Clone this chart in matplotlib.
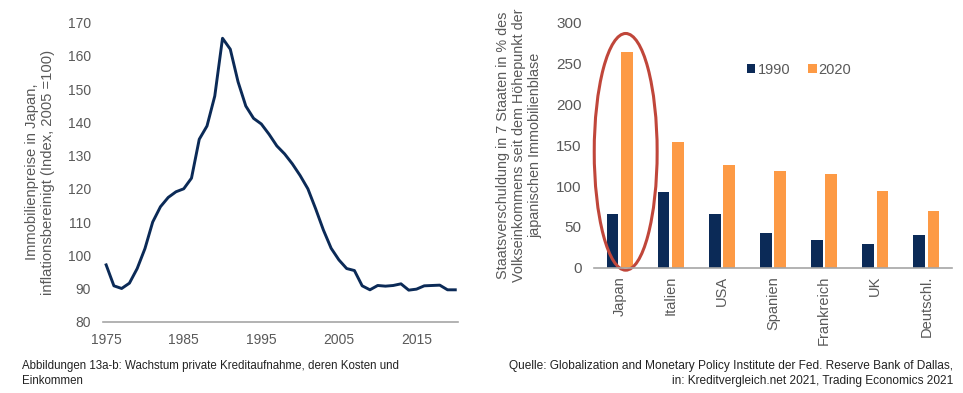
import matplotlib
matplotlib.use("Agg")
import matplotlib.pyplot as plt
from matplotlib.patches import Ellipse
import numpy as np

plt.rcParams['font.family'] = ['Liberation Sans', 'DejaVu Sans']

# left chart: real estate prices Japan
years = list(range(1975, 2021))
prices = [97.1, 90.8, 90.0, 91.6, 96.0, 102.0, 110.0, 114.6, 117.4, 119.1,
          120.0, 123.2, 134.9, 138.9, 147.9, 165.3, 162.0, 152.2, 144.9, 141.2,
          139.5, 136.4, 132.9, 130.5, 127.5, 124.0, 120.0, 114.0, 107.6, 102.1,
          98.6, 96.0, 95.4, 90.8, 89.6, 90.9, 90.7, 90.9, 91.4, 89.5,
          89.8, 90.8, 90.9, 91.0, 89.6, 89.6]

# right chart: government debt
countries = ['Japan', 'Italien', 'USA', 'Spanien', 'Frankreich', 'UK', 'Deutschl.']
debt_1990 = [66, 93, 66, 43, 34, 29, 40]
debt_2020 = [264, 154, 126, 118, 115, 94, 69]

NAVY = '#0b2a57'
ORANGE = '#fd9a45'
GREY = '#595959'
AXIS = '#a6a6a6'

fig = plt.figure(figsize=(9.63, 3.93), dpi=100)

ax1 = fig.add_axes([0.107, 0.1814, 0.369, 0.761])
ax1.plot(years, prices, color=NAVY, linewidth=2.1)
ax1.set_xlim(1974.6, 2020.4)
ax1.set_ylim(80, 170)
ax1.set_xticks([1975, 1985, 1995, 2005, 2015])
ax1.set_yticks(range(80, 171, 10))
ax1.set_ylabel('Immobilienpreise in Japan,\ninflationsbereinigt (Index, 2005 =100)',
               fontsize=10.6, color=GREY, labelpad=9)
for s in ['top', 'right', 'left']:
    ax1.spines[s].set_visible(False)
ax1.spines['bottom'].set_color(AXIS)
ax1.spines['bottom'].set_linewidth(1.2)
ax1.tick_params(axis='both', length=0, labelsize=10, colors=GREY)
ax1.tick_params(axis='y', pad=8.5)
ax1.tick_params(axis='x', pad=8)

ax2 = fig.add_axes([0.6168, 0.3188, 0.3718, 0.623])
x = np.arange(len(countries))
w = 0.229
ax2.bar(x - 0.14, debt_1990, width=w, color=NAVY, label='1990')
ax2.bar(x + 0.14, debt_2020, width=w, color=ORANGE, label='2020')
ax2.set_xlim(-0.5, len(countries) - 0.5)
ax2.set_ylim(0, 300)
ax2.set_yticks(range(0, 301, 50))
ax2.set_xticks(x)
ax2.set_xticklabels(countries, rotation=90)
ax2.set_ylabel('Staatsverschuldung in 7 Staaten in % des\nVolkseinkommens seit dem Höhepunkt der\njapanischen Immobilienblase',
               fontsize=10.4, color=GREY, labelpad=10)
for s in ['top', 'right', 'left']:
    ax2.spines[s].set_visible(False)
ax2.spines['bottom'].set_color(AXIS)
ax2.spines['bottom'].set_linewidth(1.2)
ax2.tick_params(axis='y', length=0, labelsize=11, colors=GREY, pad=9)
ax2.tick_params(axis='x', length=0, labelsize=10.5, colors=GREY, pad=6)

ell = Ellipse((0.12, 142), 1.23, 290, fill=False, edgecolor='#c0463a', linewidth=2.2,
              clip_on=False)
ax2.add_patch(ell)

ax2.legend(loc='upper left', bbox_to_anchor=(0.39, 0.89), ncol=2, frameon=False,
           fontsize=10.5, handlelength=0.6, handleheight=0.6, handletextpad=0.15,
           columnspacing=1.2, labelcolor=GREY)

fig.text(0.023, 0.05, 'Abbildungen 13a-b: Wachstum private Kreditaufnahme, deren Kosten und\nEinkommen',
         fontsize=8.3, color='#222222', ha='left', va='center', linespacing=1.3)
fig.text(0.99, 0.05, 'Quelle: Globalization and Monetary Policy Institute der Fed. Reserve Bank of Dallas,\nin: Kreditvergleich.net 2021, Trading Economics 2021',
         fontsize=8.6, color='#222222', ha='right', va='center', linespacing=1.3,
         multialignment='right')

plt.savefig('out.png', dpi=100)
